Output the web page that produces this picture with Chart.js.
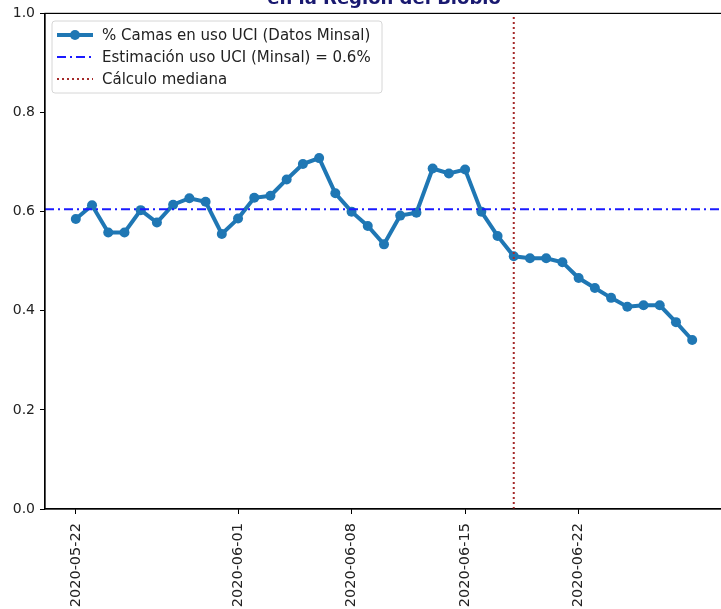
<!DOCTYPE html>
<html>
<head>
<meta charset="utf-8">
<script src="https://cdn.jsdelivr.net/npm/chart.js@4/dist/chart.umd.min.js"></script>
<style>
  html, body { margin: 0; padding: 0; background: #fff; overflow: hidden; }
  #wrap { width: 721px; height: 609px; overflow: hidden; }
</style>
</head>
<body>
<div id="wrap"><canvas id="grafico" width="728" height="609"></canvas></div>
<script>
// datos (ocupación UCI Biobío)
const fechas = [
  '2020-05-22', '2020-05-23', '2020-05-24', '2020-05-25', '2020-05-26', '2020-05-27',
  '2020-05-28', '2020-05-29', '2020-05-30', '2020-05-31', '2020-06-01', '2020-06-02',
  '2020-06-03', '2020-06-04', '2020-06-05', '2020-06-06', '2020-06-07', '2020-06-08',
  '2020-06-09', '2020-06-10', '2020-06-11', '2020-06-12', '2020-06-13', '2020-06-14',
  '2020-06-15', '2020-06-16', '2020-06-17', '2020-06-18', '2020-06-19', '2020-06-20',
  '2020-06-21', '2020-06-22', '2020-06-23', '2020-06-24', '2020-06-25', '2020-06-26',
  '2020-06-27', '2020-06-28', '2020-06-29'
];
const usoUCI = [
  0.585, 0.613, 0.558, 0.558, 0.603, 0.578,
  0.614, 0.627, 0.620, 0.555, 0.586, 0.628,
  0.632, 0.665, 0.696, 0.708, 0.637, 0.600,
  0.571, 0.534, 0.592, 0.598, 0.687, 0.677,
  0.685, 0.600, 0.551, 0.510, 0.506, 0.506,
  0.498, 0.466, 0.446, 0.426, 0.408, 0.411,
  0.411, 0.377, 0.341
];
const estimacionMinsal = 0.605;
const fechaMediana = '2020-06-18';
const ticksFechas = ['2020-05-22', '2020-06-01', '2020-06-08', '2020-06-15', '2020-06-22'];
const ticksY = [0, 0.2, 0.4, 0.6, 0.8, 1.0];

const titulo = 'en la Región del Biobío';
const etiquetas = [
  '% Camas en uso UCI (Datos Minsal)',
  'Estimación uso UCI (Minsal) = 0.6%',
  'Cálculo mediana'
];

const DIA = 86400000;
const base = Date.parse(fechas[0]);
const aDia = f => (Date.parse(f) - base) / DIA;

const xMin = -1.9, xMax = 39.9;
const fuente = 'DejaVu Sans';

// marco de los ejes + título cortado arriba + leyenda dentro del gráfico
const extras = {
  id: 'extras',
  afterDatasetsDraw(chart) {
    const { ctx, chartArea: a } = chart;
    ctx.save();
    ctx.strokeStyle = '#000';
    ctx.lineWidth = 1.2;
    ctx.strokeRect(a.left, a.top, a.right - a.left, a.bottom - a.top);

    ctx.fillStyle = '#191970';
    ctx.font = 'bold 18px ' + fuente;
    ctx.textAlign = 'center';
    ctx.textBaseline = 'alphabetic';
    ctx.fillText(titulo, (a.left + a.right) / 2, 4);

    // leyenda
    const lx = 52, ly = 21, lw = 330, lh = 72;
    ctx.beginPath();
    ctx.roundRect(lx, ly, lw, lh, 3);
    ctx.fillStyle = 'rgba(255,255,255,0.85)';
    ctx.fill();
    ctx.strokeStyle = '#d6d6d6';
    ctx.lineWidth = 1;
    ctx.stroke();

    const ds = chart.data.datasets;
    ctx.font = '15px ' + fuente;
    ctx.textAlign = 'left';
    ctx.textBaseline = 'middle';
    etiquetas.forEach((txt, i) => {
      const y = ly + 14 + i * 22;
      const d = ds[i];
      ctx.beginPath();
      ctx.setLineDash(d.borderDash || []);
      ctx.strokeStyle = d.borderColor;
      ctx.lineWidth = d.borderWidth;
      ctx.moveTo(57, y);
      ctx.lineTo(93, y);
      ctx.stroke();
      ctx.setLineDash([]);
      if (d.pointRadius > 0) {
        ctx.beginPath();
        ctx.fillStyle = d.borderColor;
        ctx.arc(75, y, d.pointRadius, 0, Math.PI * 2);
        ctx.fill();
      }
      ctx.fillStyle = '#222';
      ctx.fillText(txt, 102, y + 1);
    });
    ctx.restore();
  }
};

const ctx = document.getElementById('grafico').getContext('2d');
new Chart(ctx, {
  type: 'line',
  data: {
    datasets: [
      {
        label: etiquetas[0],
        data: fechas.map((f, i) => ({ x: aDia(f), y: usoUCI[i] })),
        borderColor: '#1f77b4',
        backgroundColor: '#1f77b4',
        borderWidth: 4,
        pointRadius: 5,
        pointBorderWidth: 0,
        tension: 0,
        order: 3
      },
      {
        label: etiquetas[1],
        data: [{ x: xMin, y: estimacionMinsal }, { x: xMax, y: estimacionMinsal }],
        borderColor: '#1a1aff',
        borderWidth: 2,
        borderDash: [9, 4, 2, 4],
        pointRadius: 0,
        order: 2
      },
      {
        label: etiquetas[2],
        data: [{ x: aDia(fechaMediana), y: 0 }, { x: aDia(fechaMediana), y: 1 }],
        borderColor: '#a52a2a',
        borderWidth: 2,
        borderDash: [2, 3],
        pointRadius: 0,
        order: 1
      }
    ]
  },
  options: {
    responsive: false,
    animation: false,
    layout: { padding: { top: 13, right: 1, left: 0, bottom: 0 } },
    plugins: {
      legend: { display: false },
      tooltip: { enabled: false }
    },
    scales: {
      x: {
        type: 'linear',
        min: xMin,
        max: xMax,
        afterBuildTicks: s => { s.ticks = ticksFechas.map(f => ({ value: aDia(f) })); },
        afterFit: s => { s.height = 100; },
        ticks: {
          callback: (v, i) => ticksFechas[i],
          minRotation: 90,
          maxRotation: 90,
          padding: 9,
          color: '#222',
          font: { family: fuente, size: 14.5 }
        },
        grid: { drawOnChartArea: false, drawTicks: true, tickLength: 5, color: '#000' },
        border: { display: true, color: '#000', width: 1.2 }
      },
      y: {
        min: 0,
        max: 1,
        afterBuildTicks: s => { s.ticks = ticksY.map(v => ({ value: v })); },
        afterFit: s => { s.width = 45; },
        ticks: {
          callback: v => v.toFixed(1),
          padding: 5,
          color: '#222',
          font: { family: fuente, size: 14 }
        },
        grid: { drawOnChartArea: false, drawTicks: true, tickLength: 5, color: '#000' },
        border: { display: true, color: '#000', width: 1.2 }
      }
    }
  },
  plugins: [extras]
});
</script>
</body>
</html>
